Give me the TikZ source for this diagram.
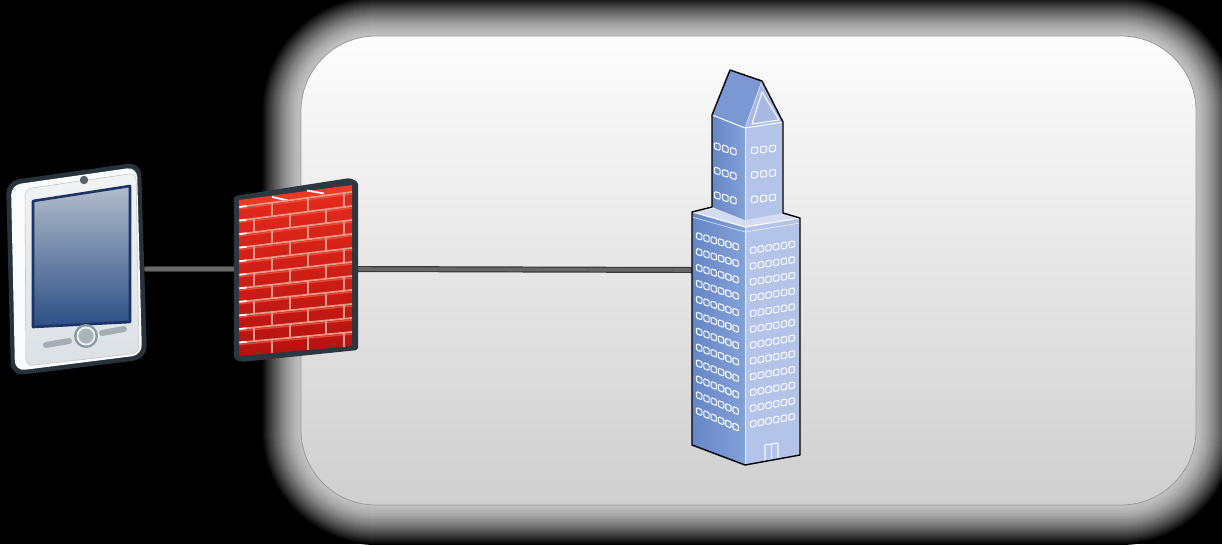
\documentclass[tikz,border=0pt]{standalone}
\usetikzlibrary{calc}

% palette
\definecolor{boxtop}{HTML}{FDFDFD}
\definecolor{boxbot}{HTML}{CFCFCF}
\definecolor{boxedge}{HTML}{9A9A9A}
\definecolor{linkgray}{HTML}{686868}
\definecolor{linkdark}{HTML}{383838}
\definecolor{phonedark}{HTML}{26323C}
\definecolor{phoneface}{HTML}{F1F3F5}
\definecolor{phonefacebot}{HTML}{DCE1E5}
\definecolor{phoneside}{HTML}{FAFBFC}
\definecolor{screentop}{HTML}{B3BCCA}
\definecolor{screenbot}{HTML}{2B4E86}
\definecolor{screenrim}{HTML}{1B3463}
\definecolor{btngray}{HTML}{8E9AA1}
\definecolor{btnlight}{HTML}{EEF1F3}
\definecolor{btninner}{HTML}{A9B4BA}
\definecolor{pillgray}{HTML}{A3ADB3}
\definecolor{camgray}{HTML}{56626C}
\definecolor{wallframe}{HTML}{2B3741}
\definecolor{bricktop}{HTML}{E52A1C}
\definecolor{brickbot}{HTML}{B51210}
\definecolor{brickcap}{HTML}{EC3A26}
\definecolor{brickhi}{HTML}{F2503A}
\definecolor{mortar}{HTML}{E89A88}
\definecolor{bleftdark}{HTML}{6686C6}
\definecolor{bleft}{HTML}{83A0D8}
\definecolor{bright}{HTML}{B4C4E8}
\definecolor{btopface}{HTML}{D3DDF2}
\definecolor{roofleft}{HTML}{7B98D4}
\definecolor{roofright}{HTML}{A8B8E2}
\definecolor{winline}{HTML}{F4F7FD}

\tikzset{
  anchorbox/.style={inner sep=0pt, outer sep=0pt, draw=none},
  link/.style={line width=3.6pt, draw=linkgray, line cap=round,
    preaction={draw=linkdark, line width=6pt, line cap=round}},
  window/.style={draw=winline, line width=1.1pt, rounded corners=1pt},
  mortarline/.style={draw=mortar, line width=1.8pt},
  edgelight/.style={draw=white, line width=1pt},
}

\begin{document}
\begin{tikzpicture}[x=1pt, y=-1pt, line join=round]
\useasboundingbox (0,0) rectangle (1222,544);
\fill[black] (0,0) rectangle (1222,544);

% soft glow around the panel
\foreach \i in {40,39,...,1}{
  \pgfmathtruncatemacro\c{76*(1-(\i/40)^1.5)}
  \pgfmathsetmacro\r{75+\i}
  \fill[white!\c!black, rounded corners=\r pt] ({301-\i},{36-\i}) rectangle ({1196+\i},{505+\i});
}

% panel
\shade[top color=boxtop, bottom color=boxbot, rounded corners=75pt] (301,36) rectangle (1196,505);
\draw[boxedge, line width=0.8pt, rounded corners=75pt] (301,36) rectangle (1196,505);

% placeholders for the three devices
\node[anchorbox, minimum width=138pt, minimum height=210pt] (phone) at (77,269) {};
\node[anchorbox, minimum width=123pt, minimum height=184pt] (firewall) at (296.5,269) {};
\node[anchorbox, minimum width=108pt, minimum height=395pt] (tower) at (746,270) {};

% links
\draw[link] (phone.east) -- (firewall.west);
\draw[link] (firewall.east) -- (tower.west);

% ---------------- handheld ----------------
\fill[phonedark, rounded corners=13pt] (6,181) -- (141,162) -- (147,359) -- (11,376) -- cycle;
\fill[phoneside, rounded corners=10pt] (11,185) -- (137,167) -- (142,355) -- (15,371) -- cycle;
\shade[top color=phoneface, bottom color=phonefacebot, rounded corners=7pt]
  (25,189) -- (136,173) -- (139,353) -- (26,366) -- cycle;
\draw[gray!45, line width=0.6pt, rounded corners=7pt]
  (25,189) -- (136,173) -- (139,353) -- (26,366) -- cycle;
\fill[camgray] (84,180) circle (4.2);
\shade[top color=screentop, bottom color=screenbot] (33,201) -- (130,186) -- (130,322) -- (33,327) -- cycle;
\draw[screenrim, line width=2.6pt] (33,201) -- (130,186) -- (130,322) -- (33,327) -- cycle;
\fill[btngray] (86,336) circle (12);
\fill[btnlight] (86,336) circle (9.5);
\fill[btninner] (86,336) circle (7.5);
\draw[pillgray, line width=6pt, line cap=round] (46,345) -- (69,341);
\draw[pillgray, line width=6pt, line cap=round] (102,333) -- (124,329);

% ---------------- brick wall ----------------
\fill[wallframe, rounded corners=2pt] (234,196) -- (350,178) -- (358,182) -- (358,350) -- (241,362) -- (234,359) -- cycle;
\shade[top color=bricktop, bottom color=brickbot] (239,207) -- (352,192) -- (352,346) -- (239,356) -- cycle;
\fill[brickcap] (239,200) -- (352,185) -- (352,192) -- (239,207) -- cycle;
\draw[white, line width=1.8pt] (272,197) -- (288,200.5);
\draw[white, line width=1.8pt] (307,190.5) -- (324,193.5);
\foreach \k in {0,...,10}{
  \pgfmathsetmacro\ya{207+13.55*\k}
  \pgfmathsetmacro\yb{192+14*\k}
  \pgfmathsetmacro\yc{207+13.55*(\k+1)}
  \pgfmathsetmacro\yd{192+14*(\k+1)}
  % lit upper edge of each brick course
  \draw[brickhi, line width=1.4pt, opacity=0.8] (239,{\ya+2}) -- (352,{\yb+2});
  \draw[mortarline] (239,\ya) -- (352,\yb);
  \draw[white, line width=1.7pt] (239.5,\ya) -- ++(7,{7*(\yb-\ya)/113});
  \pgfmathsetmacro\off{18*(1-mod(\k,2))}
  \foreach \j in {0,1,2}{
    \pgfmathsetmacro\jx{254+\off+36*\j}
    \pgfmathsetmacro\ja{\ya+(\jx-239)*(\yb-\ya)/113}
    \pgfmathsetmacro\jb{\yc+(\jx-239)*(\yd-\yc)/113}
    \draw[mortarline] (\jx,\ja) -- (\jx,\jb);
  }
}

% ---------------- tower ----------------
% lower block
\fill[btopface] (692,212) -- (745,226) -- (800,218) -- (748,204) -- cycle;
\shade[left color=bleftdark, right color=bleft] (692,212) -- (745,227) -- (745,465) -- (692,445) -- cycle;
\fill[bright] (745,227) -- (800,218) -- (800,455) -- (745,465) -- cycle;
\draw[edgelight] (692,212) -- (745,227) -- (800,218);
\draw[white, opacity=0.6, line width=0.8pt] (692,217) -- (745,232) -- (800,223);
\draw[white, opacity=0.7, line width=0.8pt] (745,227) -- (745,465);
% upper block
\shade[left color=bleftdark, right color=bleft] (712,115) -- (745,128) -- (745,220) -- (712,207) -- cycle;
\fill[bright] (745,128) -- (783,122) -- (783,213) -- (745,220) -- cycle;
\draw[white, opacity=0.7, line width=0.8pt] (745,128) -- (745,220);
% roof
\fill[roofleft] (730,70) -- (762,81) -- (745,128) -- (712,115) -- cycle;
\fill[roofright] (762,81) -- (783,122) -- (745,128) -- cycle;
\draw[white, line width=1pt] (762,92) -- (779,120) -- (752,124) -- cycle;
\draw[edgelight] (712,115) -- (745,128) -- (783,122);
\draw[white, opacity=0.6, line width=0.8pt] (762,81) -- (745,128);

% windows, lower block
\foreach \k in {0,...,11}{
  \foreach \j in {0,...,5}{
    \pgfmathsetmacro\s{0.28+0.013*\k}
    \pgfmathsetmacro\wx{696.5+7.3*\j}
    \pgfmathsetmacro\wy{232.5+15.9*\k+\s*7.3*\j}
    \draw[window] (\wx,\wy) -- ++(5.3,{5.3*\s}) -- ++(0,6) -- ++(-5.3,{-5.3*\s}) -- cycle;
    \pgfmathsetmacro\t{-0.15-0.003*\k}
    \pgfmathsetmacro\vx{750.5+7.7*\j}
    \pgfmathsetmacro\vy{247.5+15.8*\k+\t*7.7*\j}
    \draw[window] (\vx,\vy) -- ++(5.3,{5.3*\t}) -- ++(0,6) -- ++(-5.3,{-5.3*\t}) -- cycle;
  }
}
% windows, upper block
\foreach \k in {0,1,2}{
  \foreach \j in {0,1,2}{
    \pgfmathsetmacro\wx{714.5+8*\j}
    \pgfmathsetmacro\wy{142.5+24.5*\k+0.3*8*\j}
    \draw[window] (\wx,\wy) -- ++(5.6,1.7) -- ++(0,6.2) -- ++(-5.6,-1.7) -- cycle;
    \pgfmathsetmacro\vx{751.5+9*\j}
    \pgfmathsetmacro\vy{147.5+24.5*\k-0.1*9*\j}
    \draw[window] (\vx,\vy) -- ++(6,-0.6) -- ++(0,6.2) -- ++(-6,0.6) -- cycle;
  }
}
% door
\draw[winline, line width=1.1pt] (765,461) -- (765,445) -- (778,443) -- (778,459);
\draw[winline, line width=1.1pt] (771.5,444) -- (771.5,460);

% silhouette
\draw[black, line width=1.4pt] (730,70) -- (762,81) -- (783,122) -- (783,213) -- (800,218) -- (800,455)
  -- (745,465) -- (692,445) -- (692,212) -- (712,207) -- (712,115) -- cycle;
\end{tikzpicture}
\end{document}
